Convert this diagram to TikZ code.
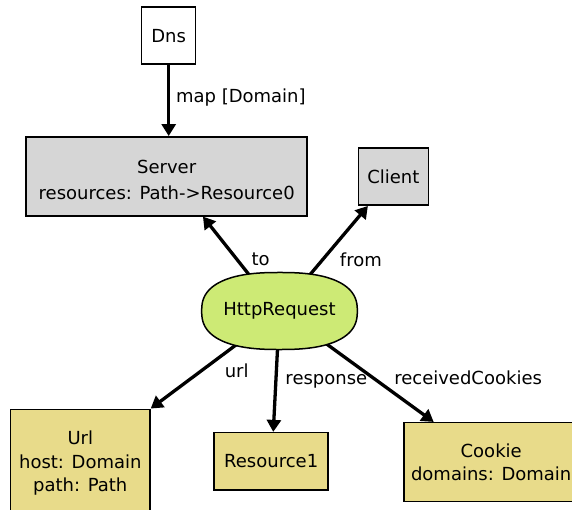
\documentclass[tikz,border=0pt]{standalone}
\usepackage{fontspec}
\setmainfont{DejaVu Sans}
\usepackage{tikz}
\usetikzlibrary{arrows.meta,positioning,shapes.geometric}
\definecolor{cgray}{RGB}{214,214,214}
\definecolor{cgreen}{RGB}{205,234,117}
\definecolor{cyellow}{RGB}{232,219,138}
\tikzset{
  sig/.style={rectangle,draw=black,line width=1.5pt,inner sep=0pt,align=center,
    font=\fontsize{18}{23.5}\selectfont},
  sgray/.style={sig,fill=cgray},
  syellow/.style={sig,fill=cyellow},
  swhite/.style={sig,fill=white},
  % relations: thick black arrows, label to the right of the line
  rel/.style={-{Triangle[length=12pt,width=14pt]},line width=3.3pt},
  rellab/.style={font=\fontsize{18}{23.5}\selectfont,inner sep=0pt}
}

\begin{document}
\begin{tikzpicture}[x=1pt,y=-1pt]
  \clip (0,0) rectangle (572,510);
  \fill[white] (0,0) rectangle (572,510);
  % signatures
  \node[swhite,minimum width=54pt,minimum height=57pt] (dns) at (168.7,35.7) {Dns};
  \node[sgray,minimum width=281pt,minimum height=79pt] (server) at (166.7,176.3)
    {\rule{0pt}{21pt}Server\\[2.5pt]resources: Path->Resource0};
  \node[sgray,minimum width=70pt,minimum height=57pt] (client) at (393.3,176.7) {Client};
  \node[ellipse,inner sep=0pt,minimum width=155.6pt,minimum height=77pt] (req) at (279.5,311) {};
  \node[syellow,minimum width=139.3pt,minimum height=108pt] (url) at (80.3,463.3)
    {Url\\host: Domain\\path: Path};
  \node[syellow,minimum width=114pt,minimum height=57.3pt] (res) at (271.2,461.3) {Resource1};
  \node[syellow,minimum width=174.4pt,minimum height=79pt] (cookie) at (491.2,462.2)
    {Cookie\\domains: Domain};
  % relations
  \draw[rel] (dns.south) -- (server.north -| dns.south)
    node[rellab,pos=.46,right=5.7pt] {map [Domain]};
  \draw[rel] (req.130) -- (server.-48.5) node[rellab,pos=.27,right=13pt] {to};
  \draw[rel] (req.50) -- (client.-131.5) node[rellab,pos=.22,right=16pt] {from};
  \draw[rel] (req.-142) -- (url.north east) node[rellab,pos=.42,right=22pt] {url};
  \draw[rel] (req.-93) -- (res.86) node[rellab,pos=.39,right=8pt] {response};
  \draw[rel] (req.-35) -- (cookie.145.4) node[rellab,pos=.44,right=20pt] {receivedCookies};
  % HttpRequest drawn as a superellipse over the starts of its arrows
  \draw[line width=1.5pt,fill=cgreen] plot[domain=1:361,samples=121,smooth]
    ({279.5+77.8*sign(cos(\x))*abs(cos(\x))^0.8},{311+38.5*sign(sin(\x))*abs(sin(\x))^0.8}) -- cycle;
  \node[font=\fontsize{18}{23.5}\selectfont,inner sep=0pt] (reqtext) at (req) {HttpRequest};
\end{tikzpicture}
\end{document}
